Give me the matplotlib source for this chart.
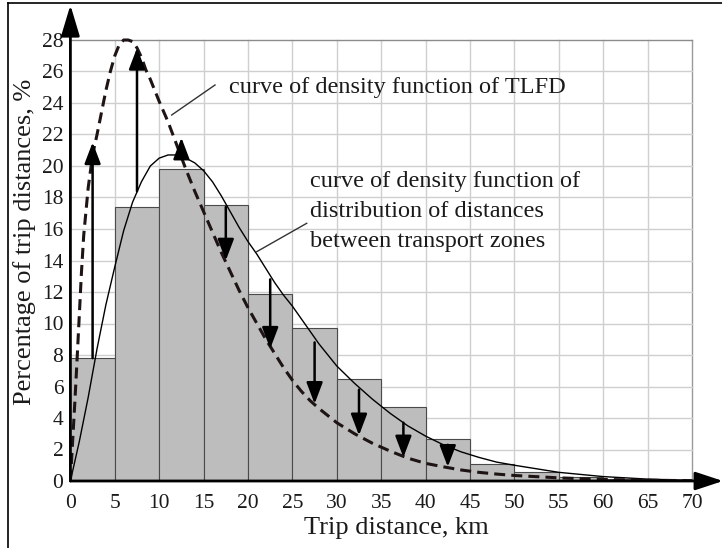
import matplotlib
matplotlib.use("Agg")
import matplotlib.pyplot as plt
from matplotlib.lines import Line2D

# ---------------- data ----------------
bin_left = [0, 5, 10, 15, 20, 25, 30, 35, 40, 45, 50, 55, 60, 65]
bar_heights = [7.8, 17.4, 19.8, 17.5, 11.9, 9.7, 6.5, 4.7, 2.65, 1.08, 0.55, 0.27, 0.15, 0.08]

solid_x = [0, 1, 2, 3, 4, 5, 6, 7, 8, 9, 10, 11, 12, 13, 14, 15, 16, 17, 18, 19, 20,
           21, 22, 23, 24, 25, 26, 28, 30, 32, 34, 36, 38, 40, 42, 44, 46, 48, 50,
           55, 60, 65, 70]
solid_y = [0, 2.5, 5.3, 8.4, 11.2, 13.6, 15.9, 17.7, 19.0, 20.0, 20.5, 20.7, 20.7, 20.5,
           20.2, 19.7, 19.0, 18.1, 17.1, 16.1, 15.2, 14.4, 13.5, 12.6, 11.8, 11.1, 10.3,
           8.7, 7.3, 6.2, 5.2, 4.3, 3.5, 2.85, 2.3, 1.85, 1.5, 1.2, 1.0, 0.55, 0.28, 0.12, 0.04]

dashed_x = [0, 0.25, 0.5, 0.75, 1.0, 1.25, 1.5, 2.0, 2.5, 3.0, 3.5, 4.0, 4.5, 5.0, 5.5,
            6.0, 6.5, 7.0, 7.5, 8.0, 8.5, 9, 10, 11, 12, 13, 14, 15, 16, 17, 18, 19, 20,
            21, 22, 23, 24, 25, 26, 27, 28, 30, 32, 34, 36, 38, 40, 42, 44, 46, 48, 50,
            55, 60, 65, 70]
dashed_y = [0, 2.5, 5.0, 7.7, 10.5, 13.3, 15.6, 18.6, 20.7, 22.0, 23.4, 24.8, 26.0, 27.0,
            27.7, 28.0, 28.0, 27.9, 27.5, 26.9, 26.1, 25.5, 24.1, 22.8, 21.3, 19.8, 18.4,
            17.1, 15.8, 14.5, 13.3, 12.1, 11.0, 10.0, 9.0, 8.1, 7.2, 6.4, 5.7, 5.1, 4.6,
            3.7, 3.0, 2.4, 1.9, 1.45, 1.12, 0.9, 0.7, 0.55, 0.44, 0.35, 0.2, 0.1, 0.05, 0.02]

arrow_x = [2.5, 7.5, 12.5, 17.5, 22.5, 27.5, 32.5, 37.5, 42.5]
arrow_start = [7.8, 18.4, 20.6, 17.4, 12.8, 8.8, 5.8, 3.7, 2.3]
arrow_end = [21.5, 27.5, 21.8, 14.0, 8.4, 4.9, 2.9, 1.5, 0.9]

x_ticks = [0, 5, 10, 15, 20, 25, 30, 35, 40, 45, 50, 55, 60, 65, 70]
y_ticks = [0, 2, 4, 6, 8, 10, 12, 14, 16, 18, 20, 22, 24, 26, 28]

label_tlfd = "curve of density function of TLFD"
label_zones = ["curve of density function of",
               "distribution of distances",
               "between transport zones"]
x_label = "Trip distance, km"
y_label = "Percentage of trip distances, %"

# ---------------- figure ----------------
plt.rcParams['font.family'] = ['Liberation Serif', 'DejaVu Serif']
W, H = 722, 548
fig = plt.figure(figsize=(W / 100, H / 100), dpi=100)
fig.patch.set_facecolor('white')

x0px, y0px = 70.4, 481.0
pxkm, pxpct = 8.88, 15.75
ax = fig.add_axes([x0px / W, (H - y0px) / H, (W - x0px) / W, (y0px - 3) / H])
ax.set_xlim(0, (W - x0px) / pxkm)
ax.set_ylim(0, (y0px - 3) / pxpct)
for s in ax.spines.values():
    s.set_visible(False)
ax.set_facecolor('white')

# grid
for xv in x_ticks[1:]:
    ax.plot([xv, xv], [0, 28], color='#999999' if xv == 70 else '#cfcfcf', lw=1.0, zorder=1)
for yv in y_ticks[1:]:
    ax.plot([0, 70], [yv, yv], color='#8c8c8c' if yv == 28 else '#cfcfcf', lw=1.0, zorder=1)

# bars
ax.bar(bin_left, bar_heights, width=5, align='edge', color='#bdbdbd',
       edgecolor='#4a4a4a', linewidth=0.8, zorder=2)

# curves
ax.plot(solid_x, solid_y, color='black', lw=1.0, zorder=4)
ax.plot(dashed_x, dashed_y, color='#1e1414', lw=2.2, dashes=(3.6, 2.0), zorder=4)

# difference arrows
for xa, ys, ye in zip(arrow_x, arrow_start, arrow_end):
    ax.annotate('', xy=(xa, ye), xytext=(xa, ys),
                arrowprops=dict(arrowstyle='-|>,head_length=1.0,head_width=0.38',
                                mutation_scale=13, lw=1.8, color='black',
                                shrinkA=0, shrinkB=0), zorder=5)

# axis arrows
ax.annotate('', xy=(0, (y0px - 5) / pxpct), xytext=(0, 0),
            arrowprops=dict(arrowstyle='-|>,head_length=1.0,head_width=0.3',
                            mutation_scale=19, lw=2.0, color='black',
                            shrinkA=0, shrinkB=0), zorder=6, annotation_clip=False)
ax.annotate('', xy=((W + 1 - x0px) / pxkm, 0), xytext=(0, 0),
            arrowprops=dict(arrowstyle='-|>,head_length=1.0,head_width=0.33',
                            mutation_scale=17, lw=2.0, color='black',
                            shrinkA=0, shrinkB=0), zorder=6, annotation_clip=False)

# ticks
ax.set_xticks(x_ticks)
ax.set_yticks(y_ticks)
ax.tick_params(length=0, labelsize=15.5, colors='#1a1a1a')
ax.tick_params(axis='x', pad=9)
ax.tick_params(axis='y', pad=5)

ax.set_xlabel(x_label, fontsize=19, labelpad=3, color='#1a1a1a')
ax.set_ylabel(y_label, fontsize=19, labelpad=4, color='#1a1a1a')

# annotations
ax.text((229 - x0px) / pxkm, (y0px - 88) / pxpct, label_tlfd, fontsize=17.5,
        va='center', ha='left', color='#1a1a1a', zorder=6)
ax.plot([(215 - x0px) / pxkm, (171.7 - x0px) / pxkm],
        [(y0px - 85) / pxpct, (y0px - 115) / pxpct], color='#333333', lw=1.0, zorder=6)
for i, line in enumerate(label_zones):
    ax.text((310 - x0px) / pxkm, (y0px - (181.7 + 30 * i)) / pxpct, line, fontsize=17.5,
            va='center', ha='left', color='#1a1a1a', zorder=6)
ax.plot([(306.7 - x0px) / pxkm, (256.7 - x0px) / pxkm],
        [(y0px - 223.3) / pxpct, (y0px - 251.7) / pxpct], color='#333333', lw=1.0, zorder=6)

# frame of the picture (left and top edges)
fig.add_artist(Line2D([8 / W, 8 / W], [0, 1 - 3 / H], color='black', lw=1.2))
fig.add_artist(Line2D([8 / W, 1], [1 - 3 / H, 1 - 3 / H], color='black', lw=1.2))

fig.savefig('out.png', dpi=100, facecolor='white')
